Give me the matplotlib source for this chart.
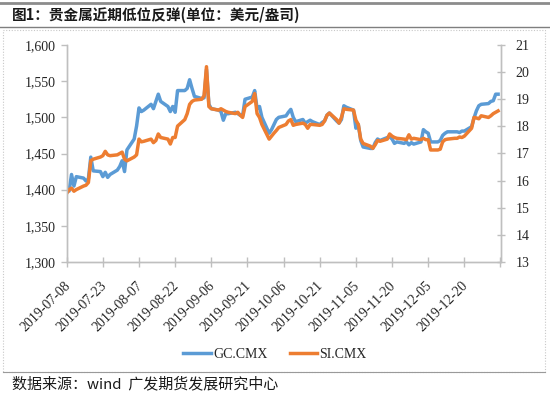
import matplotlib
matplotlib.use("Agg")
import matplotlib.pyplot as plt
import matplotlib.dates as mdates
import matplotlib.transforms as mtrans
from matplotlib.patches import Rectangle
from matplotlib.lines import Line2D
import pandas as pd
import numpy as np

# ---------------- data ----------------
dates = pd.bdate_range("2019-07-08", "2020-01-03")

gc_cmx = [
    1400, 1398, 1421, 1405, 1418,
    1416, 1412, 1415, 1445, 1426,
    1425, 1418, 1424, 1417, 1421,
    1427, 1432, 1440, 1425, 1455,
    1470, 1488, 1513, 1508, 1510,
    1518, 1512, 1522, 1532, 1522,
    1515, 1508, 1515, 1507, 1537,
    1537, 1540, 1552, 1540, 1529,
    1526, 1527, 1566, 1518, 1512,
    1510, 1508, 1496, 1505, 1505,
    1507, 1505, 1503, 1502, 1525,
    1528, 1537, 1512, 1515, 1500,
    1478, 1483, 1490, 1497, 1500,
    1502, 1507, 1511, 1500, 1494,
    1497, 1492, 1494, 1496, 1494,
    1490, 1493, 1495, 1503, 1506,
    1495, 1492, 1497, 1516, 1514,
    1510, 1485, 1490, 1468, 1459,
    1457, 1457, 1465, 1470, 1468,
    1472, 1473, 1470, 1464, 1466,
    1464, 1466, 1462, 1465, 1463,
    1466, 1483, 1480, 1478, 1466,
    1466, 1468, 1475, 1478, 1480,
    1480, 1480, 1479, 1481, 1481,
    1487, 1499, 1509, 1516, 1518,
    1519, 1522, 1523, 1532, 1532,
]

si_cmx = [
    15.53, 15.67, 15.72, 15.61, 15.67,
    15.80, 15.83, 15.93, 16.73, 16.79,
    16.87, 16.92, 17.08, 16.95, 16.92,
    16.95, 17.00, 17.05, 16.79, 16.73,
    16.87, 16.95, 17.53, 17.43, 17.45,
    17.53, 17.40, 17.48, 17.72, 17.59,
    17.53, 17.35, 17.59, 17.59, 18.01,
    18.25, 18.47, 18.81, 18.92, 18.97,
    19.00, 19.13, 20.20, 18.73, 18.65,
    18.60, 18.65, 18.60, 18.55, 18.52,
    18.47, 18.52, 18.41, 18.33, 18.73,
    18.92, 19.21, 18.47, 18.33, 18.07,
    17.53, 17.64, 17.75, 17.85, 17.96,
    18.07, 18.20, 18.25, 18.04, 18.07,
    18.12, 18.07, 17.93, 18.07, 18.07,
    18.04, 18.07, 18.20, 18.41, 18.49,
    18.25, 18.12, 18.33, 18.65, 18.63,
    18.60, 18.23, 18.07, 17.53, 17.37,
    17.27, 17.19, 17.32, 17.48, 17.45,
    17.53, 17.72, 17.64, 17.59, 17.56,
    17.53, 17.51, 17.69, 17.53, 17.56,
    17.51, 17.56, 17.51, 17.51, 17.13,
    17.13, 17.16, 17.43, 17.51, 17.53,
    17.56, 17.56, 17.61, 17.59, 17.64,
    17.93, 18.33, 18.31, 18.28, 18.39,
    18.33, 18.39, 18.47, 18.52, 18.57,
]

tick_labels = ["2019-07-08", "2019-07-23", "2019-08-07", "2019-08-22",
               "2019-09-06", "2019-09-21", "2019-10-06", "2019-10-21",
               "2019-11-05", "2019-11-20", "2019-12-05", "2019-12-20"]

left_ticks = [1300, 1350, 1400, 1450, 1500, 1550, 1600]
right_ticks = [13, 14, 15, 16, 17, 18, 19, 20, 21]

series_names = ["GC.CMX", "SI.CMX"]
title = "图1：贵金属近期低位反弹(单位：美元/盎司)"
source = "数据来源：wind  广发期货发展研究中心"

# ---------------- style ----------------
BLUE = "#5B9BD5"
ORANGE = "#ED7D31"
GREY = "#BFBFBF"
SERIF = ["Liberation Serif", "DejaVu Serif"]
CJK = ["Noto Sans CJK SC", "DejaVu Sans"]

W, H = 550, 396
fig = plt.figure(figsize=(W / 100, H / 100), dpi=100)
fig.patch.set_facecolor("white")

def px(x, y):
    return x / W, 1 - y / H

# title bar lines
fig.add_artist(Line2D([0, 1], [1 - 3 / H] * 2, color="#8C8C8C", lw=2.0, transform=fig.transFigure))
fig.add_artist(Line2D([0, 1], [1 - 26.5 / H] * 2, color="#7F7F7F", lw=1.0, transform=fig.transFigure))
fig.text(12 / W, 1 - 15 / H, title, family=CJK, fontweight="bold", fontsize=10.5,
         va="center", ha="left", color="#1a1a1a")

# chart box
box = Rectangle(px(3, 372), (545 - 3) / W, (372 - 30) / H, transform=fig.transFigure,
                fill=False, edgecolor="#C8C8C8", lw=0.8, linestyle=(0, (1, 1.5)))
fig.add_artist(box)
fig.add_artist(Line2D([3 / W, 545 / W], [1 - 372 / H] * 2, color="#9A9A9A", lw=0.8,
                      transform=fig.transFigure))

# source
fig.text(12 / W, 1 - 384 / H, source, family=CJK, fontsize=10.8, va="center", ha="left",
         color="#1a1a1a")

# axes
x0, x1, y0, y1 = 66.7, 500.5, 45, 262
ax = fig.add_axes([x0 / W, 1 - y1 / H, (x1 - x0) / W, (y1 - y0) / H])
ax2 = ax.twinx()

l1, = ax.plot(dates, gc_cmx, color=BLUE, lw=2.5, solid_joinstyle="round", label=series_names[0])
l2, = ax2.plot(dates, si_cmx, color=ORANGE, lw=2.5, solid_joinstyle="round", label=series_names[1])

start = pd.Timestamp("2019-07-08")
end = pd.Timestamp("2020-01-04")
ax.set_xlim(start, end)
ax.set_ylim(1300, 1600)
ax2.set_ylim(13, 21)

tick_pos = [start + pd.Timedelta(days=15 * i) for i in range(13)]
ax.set_xticks(tick_pos)
ax.set_xticklabels(tick_labels + [""])

ax.set_yticks(left_ticks)
ax.set_yticklabels([f"{v:,}" for v in left_ticks])
ax2.set_yticks(right_ticks)
ax2.set_yticklabels([str(v) for v in right_ticks])

for a in (ax, ax2):
    a.set_facecolor("none")
    for s in a.spines.values():
        s.set_color(GREY)
        s.set_linewidth(1.0)
    a.spines["top"].set_visible(False)

ax.tick_params(axis="y", direction="out", length=4, width=1, color=GREY, pad=4,
               labelsize=10, labelcolor="#262626")
ax2.tick_params(axis="y", direction="inout", length=6, width=1, color=GREY, pad=8,
                labelsize=10, labelcolor="#262626")
ax.tick_params(axis="x", direction="inout", length=7, width=1, color=GREY, pad=9,
               labelsize=10, labelcolor="#262626")

for lab in ax.get_yticklabels() + ax2.get_yticklabels() + ax.get_xticklabels():
    lab.set_family(SERIF)

offset = mtrans.ScaledTranslation(6 / 100, 0, fig.dpi_scale_trans)
for lab in ax.get_xticklabels():
    lab.set_rotation(45)
    lab.set_ha("right")
    lab.set_transform(lab.get_transform() + offset)

leg = fig.legend(handles=[l1, l2], labels=series_names, loc="center",
                 bbox_to_anchor=(275 / W, 1 - 354 / H), ncol=2, frameon=False,
                 prop={"family": SERIF, "size": 10}, handlelength=2.0,
                 handletextpad=0.15, columnspacing=1.6)
for t in leg.get_texts():
    t.set_color("#262626")

fig.savefig("out.png", dpi=100, facecolor="white")
